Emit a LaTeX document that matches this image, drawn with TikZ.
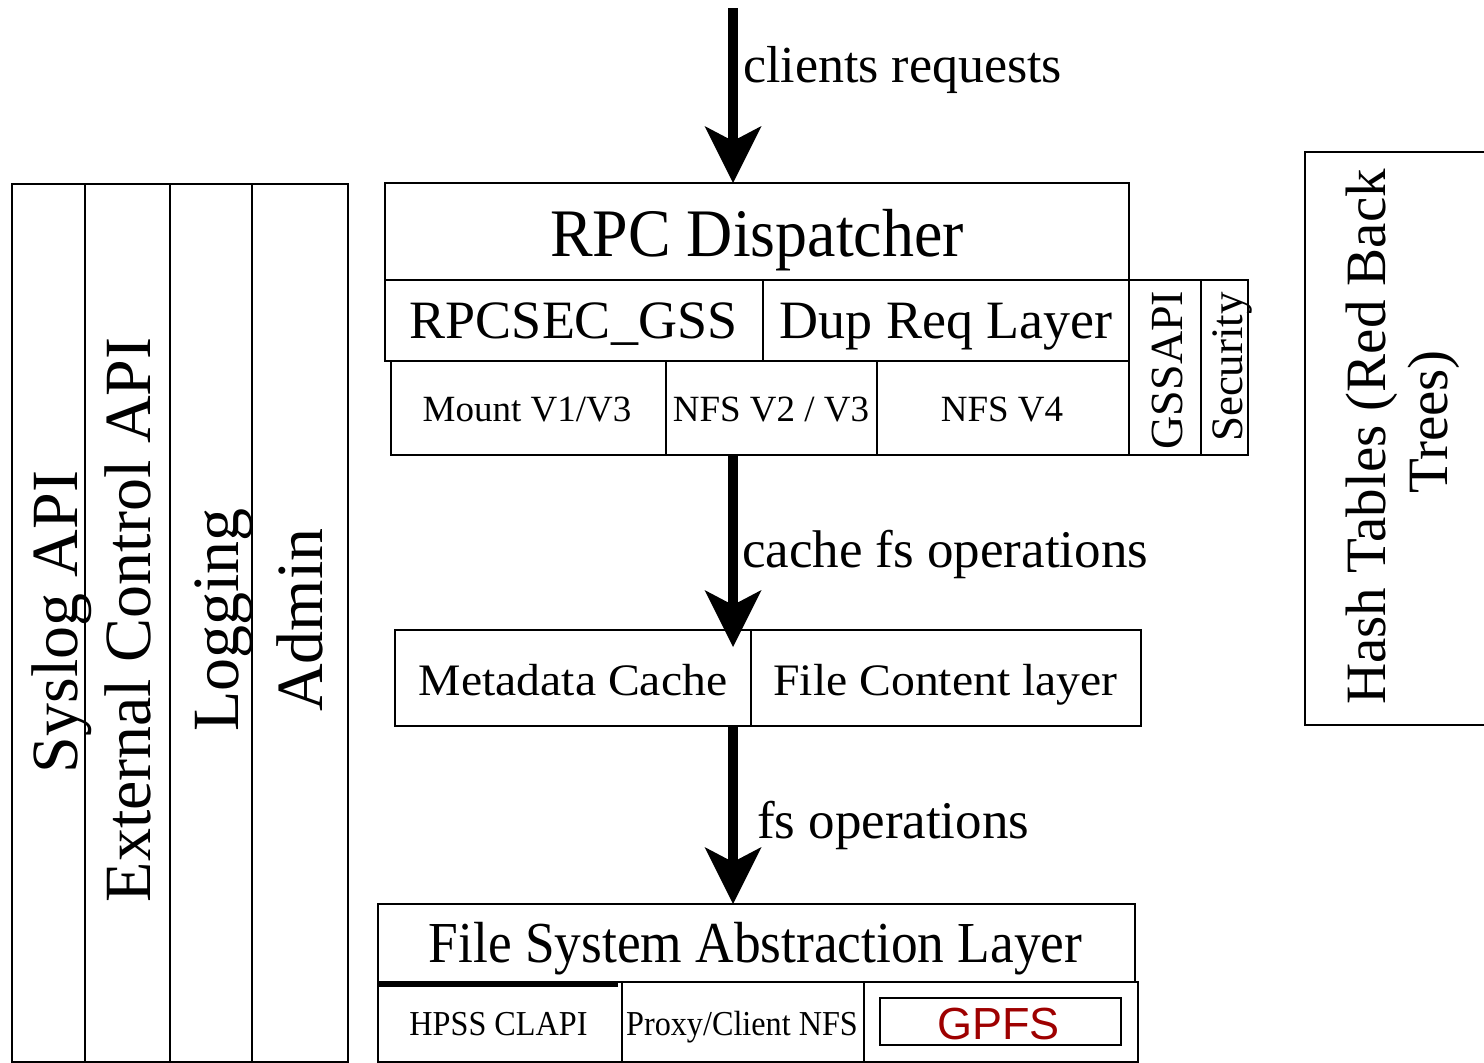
\documentclass[tikz,border=0pt]{standalone}
\usepackage{fontspec}
\usepackage{graphicx}
\setmainfont{Liberation Serif}
\newfontfamily\gpfsfont{Liberation Sans}
\usetikzlibrary{arrows.meta,calc}
\definecolor{gpfsred}{RGB}{158,0,0}
\newcommand\txtsize[1]{\fontsize{#1}{#1}\selectfont}
% rectangular cell given by its top-left and bottom-right corners (pixel grid)
\newcommand\cellbox[5]{\node[cell, anchor=north west,
  minimum width={#4pt-#2pt}, minimum height={#5pt-#3pt}] (#1) at (#2,#3) {};}
\begin{document}
\begin{tikzpicture}[x=1pt,y=-1pt,
  cell/.style={draw, line width=2pt, inner sep=0pt, outer sep=0pt},
  lbl/.style={inner sep=0pt, outer sep=0pt, anchor=base},
  vlbl/.style={inner sep=0pt, outer sep=0pt, anchor=base, rotate=90},
  flow/.style={line width=10pt,
    -{Stealth[length=57pt,width=57pt,inset=15pt,line width=0pt]}}]
\useasboundingbox (0,0) rectangle (1484,1063);

% side column of services
\cellbox{syslog}{12}{184}{85}{1062}
\cellbox{extctl}{85}{184}{170}{1062}
\cellbox{logging}{170}{184}{252}{1062}
\cellbox{admin}{252}{184}{348}{1062}
\node[vlbl, font=\txtsize{66}] (syslogtxt) at (77,622) {Syslog API};
\node[vlbl, font=\txtsize{66}] (extctltxt) at (150,620) {External Control API};
\node[vlbl, font=\txtsize{66}] (loggingtxt) at (238,620) {Logging};
\node[vlbl, font=\txtsize{66}] (admintxt) at (322,620) {Admin};

% RPC layer
\cellbox{rpc}{385}{183}{1129}{280}
\cellbox{rpcsec}{385}{280}{763}{361}
\cellbox{dupreq}{763}{280}{1129}{361}
\cellbox{mount}{391}{361}{666}{455}
\cellbox{nfsvtwo}{666}{361}{877}{455}
\cellbox{nfsvfour}{877}{361}{1129}{455}
\cellbox{gssapi}{1129}{280}{1201}{455}
\cellbox{security}{1201}{280}{1248}{455}
\node[lbl, font=\txtsize{68}] (rpctxt) at (757,256) {\scalebox{0.94}[1]{RPC Dispatcher}};
\node[lbl, font=\txtsize{54}] (rpcsectxt) at (573.5,338) {RPCSEC\_GSS};
\node[lbl, font=\txtsize{54}] (dupreqtxt) at (946,338) {Dup Req Layer};
\node[lbl, font=\txtsize{37}] (mounttxt) at (527,421) {Mount V1/V3};
\node[lbl, font=\txtsize{37}] (nfsvtwotxt) at (771,421) {NFS V2 / V3};
\node[lbl, font=\txtsize{37}] (nfsvfourtxt) at (1002,421) {NFS V4};
\node[vlbl, font=\txtsize{46}] (gssapitxt) at (1182,370) {GSSAPI};
\node[vlbl, font=\txtsize{45}] (securitytxt) at (1242,367) {Security};

% cache layer
\cellbox{metadata}{395}{630}{751}{726}
\cellbox{content}{751}{630}{1141}{726}
\node[lbl, font=\txtsize{45}] (metadatatxt) at (573,695) {\scalebox{1.06}[1]{Metadata Cache}};
\node[lbl, font=\txtsize{45}] (contenttxt) at (945.5,695) {\scalebox{1.06}[1]{File Content layer}};

% file system abstraction layer
\cellbox{fsal}{378}{904}{1135}{982}
\cellbox{hpss}{378}{982}{622}{1062}
\cellbox{proxy}{622}{982}{864}{1062}
\cellbox{gpfscell}{864}{982}{1138}{1062}
\draw[line width=5pt] ([yshift=-2pt]hpss.north west) -- ([xshift=-4pt,yshift=-2pt]hpss.north east);
\node[draw, line width=1.5pt, inner sep=0pt, minimum width=241pt, minimum height=47pt,
  anchor=north west] (gpfsbox) at (879,997) {};
\node[lbl, font=\txtsize{58}] (fsaltxt) at (755.5,962) {\scalebox{0.92}[1]{File System Abstraction Layer}};
\node[lbl, font=\txtsize{35}] (hpsstxt) at (498.5,1035) {\scalebox{0.92}[1]{HPSS CLAPI}};
\node[lbl, font=\txtsize{35}] (proxytxt) at (742,1035) {\scalebox{0.92}[1]{Proxy/Client NFS}};
\node[lbl, font=\gpfsfont\txtsize{45}, text=gpfsred] (gpfstxt) at (998.5,1039) {GPFS};

% hash tables panel, running off the right edge
\draw[line width=2pt] (1484,152) -- (1305,152) -- (1305,725) -- (1484,725);
\node[vlbl, font=\txtsize{57}] (hashone) at (1385,437) {Hash Tables (Red Back};
\node[vlbl, font=\txtsize{57}] (hashtwo) at (1447,422) {Trees)};

% request flow
\coordinate (src) at (733,8);
\draw[flow] (src) -- (src |- rpc.north);
\draw[flow] (src |- mount.south) -- ($(src |- metadata.north)+(0,17)$);
\draw[flow] (src |- metadata.south) -- (src |- fsal.north);
\node[lbl, anchor=base west, font=\txtsize{52}] (reqtxt) at (743,82) {clients requests};
\node[lbl, anchor=base west, font=\txtsize{53}] (cachetxt) at (742,567) {cache fs operations};
\node[lbl, anchor=base west, font=\txtsize{53}] (fstxt) at (757,838) {fs operations};
\end{tikzpicture}
\end{document}
